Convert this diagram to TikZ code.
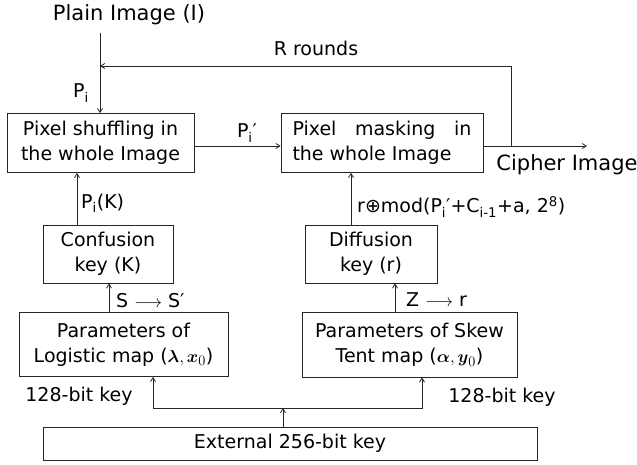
\documentclass[tikz,border=0pt]{standalone}
\usepackage{fontspec}
\setmainfont{DejaVu Sans}
\usepackage{amsmath}
\usetikzlibrary{arrows.meta}

\begin{document}
\begin{tikzpicture}[x=1pt,y=-1pt,
    box/.style={draw=black!85,line width=0.8pt,align=center,inner sep=0pt,font=\fontsize{19}{25}\selectfont},
    lbl/.style={inner sep=0pt,font=\fontsize{19}{23}\selectfont},
    arr/.style={draw=black!85,line width=0.8pt,-{Straight Barb[length=4pt,width=5pt]}}]
    \useasboundingbox (0,0) rectangle (637,464);
    % top row
    \node[lbl,font=\fontsize{21}{25}\selectfont] (plain) at (129,15) {Plain Image (I)};
    \node[box,minimum width=187pt,minimum height=59pt] (shuffle) at (100.5,143) {Pixel shuffling in\\the whole Image};
    \node[box,minimum width=202pt,minimum height=59pt,align=left] (mask) at (382,143) {\makebox[179pt][s]{Pixel masking in}\\the whole Image};
    % keys
    \node[box,minimum width=130pt,minimum height=58pt] (conf) at (108,254) {Confusion\\key (K)};
    \node[box,minimum width=132pt,minimum height=58pt] (diff) at (371,254) {Diffusion\\key (r)};
    \node[box,minimum width=209pt,minimum height=64pt] (logi) at (123.5,344.5) {Parameters of\\Logistic map ($\boldsymbol{\lambda},\boldsymbol{x}_0$)};
    \node[box,minimum width=215pt,minimum height=65pt] (skew) at (409.5,344.5) {Parameters of Skew\\Tent map ($\boldsymbol{\alpha},\boldsymbol{y}_0$)};
    \node[box,minimum width=494pt,minimum height=33pt] (ext) at (290,443.5) {External 256-bit key};
    % labels
    \node[lbl] (pi) at (81,93) {P\textsubscript{i}};
    \node[lbl] (rr) at (316,48) {R rounds};
    \node[lbl] (pip) at (247,133) {P\textsubscript{i}′};
    \node[lbl,font=\fontsize{21}{25}\selectfont] (cipherlbl) at (567,165) {Cipher Image};
    \node[lbl,anchor=west] (pik) at (81,203) {P\textsubscript{i}(K)};
    \node[lbl,anchor=west] (xr) at (357,207) {r⊕mod(P\textsubscript{i}′+C\textsubscript{i-1}+a, 2\textsuperscript{8})};
    \node[lbl,anchor=west] (ss) at (116,301) {S $\longrightarrow$ S′};
    \node[lbl,anchor=west] (zr) at (406,300) {Z $\longrightarrow$ r};
    \node[lbl] (kl) at (79,396) {128-bit key};
    \node[lbl] (kr) at (502,397) {128-bit key};
    % connectors
    \coordinate (start) at (100,33);
    \coordinate (join) at (100,66);
    \coordinate (split) at (511,146);
    \coordinate (cipher) at (587,146);
    \coordinate (bus) at (283,408);
    \draw[arr] (start) -- (start |- shuffle.north);
    \draw[arr] (split) |- (join);
    \draw[arr] (shuffle.east |- split) -- (mask.west |- split);
    \draw[arr] (mask.east |- split) -- (cipher);
    \draw[arr] ([xshift=-31pt]conf.north) -- ([xshift=-31pt]conf.north |- shuffle.south);
    \draw[arr] ([xshift=-20pt]diff.north) -- ([xshift=-20pt]diff.north |- mask.south);
    \draw[arr] ([xshift=-14.5pt]logi.north) -- ([xshift=-14.5pt]logi.north |- conf.south);
    \draw[arr] ([xshift=-14.5pt]skew.north) -- ([xshift=-14.5pt]skew.north |- diff.south);
    \draw[arr] (bus |- ext.north) -- (bus);
    \draw[arr] (bus) -| ([xshift=29.5pt]logi.south);
    \draw[arr] (bus) -| ([xshift=12.5pt]skew.south);
\end{tikzpicture}
\end{document}
